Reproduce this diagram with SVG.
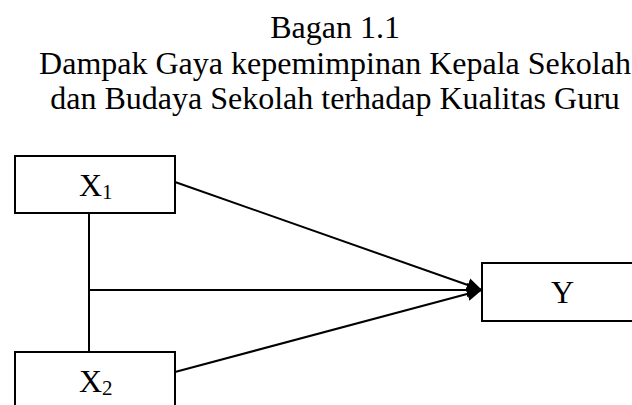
<svg xmlns="http://www.w3.org/2000/svg" width="632" height="405" viewBox="0 0 632 405">
  <style>
    .title { font-family: "Liberation Serif", "Times New Roman", serif; font-size: 32px; fill: #000; text-anchor: middle; }
    .label { font-family: "Liberation Serif", "Times New Roman", serif; font-size: 32px; fill: #000; }
    .sub { font-size: 21px; }
    .box { fill: #fff; stroke: #000; stroke-width: 2; }
    .link { fill: none; stroke: #000; stroke-width: 2; }
  </style>
  <defs>
    <marker id="arrow" markerWidth="16" markerHeight="16" refX="15" refY="8" orient="auto" markerUnits="userSpaceOnUse">
      <path d="M0,1 L15,8 L0,15 Z" fill="#000"/>
    </marker>
  </defs>
  <rect width="632" height="405" fill="#fff"/>

  <g id="title">
    <text class="title" x="335" y="38">Bagan 1.1</text>
    <text class="title" x="335" y="74">Dampak Gaya kepemimpinan Kepala Sekolah</text>
    <text class="title" x="335" y="109">dan Budaya Sekolah terhadap Kualitas Guru</text>
  </g>

  <g id="connectors">
    <line class="link" x1="89" y1="213" x2="89" y2="352"/>
    <line class="link" x1="175" y1="182" x2="482" y2="290" marker-end="url(#arrow)"/>
    <line class="link" x1="89" y1="290" x2="482" y2="290" marker-end="url(#arrow)"/>
    <line class="link" x1="175" y1="372" x2="482" y2="290" marker-end="url(#arrow)"/>
  </g>

  <g id="x1">
    <rect class="box" x="15" y="156" width="160" height="57"/>
    <text class="label" x="79" y="196">X<tspan class="sub" dy="3">1</tspan></text>
  </g>

  <g id="x2">
    <rect class="box" x="15" y="352" width="160" height="70"/>
    <text class="label" x="79" y="392">X<tspan class="sub" dy="3">2</tspan></text>
  </g>

  <g id="y">
    <rect class="box" x="482" y="263" width="170" height="58"/>
    <text class="label" x="551" y="303">Y</text>
  </g>
</svg>
